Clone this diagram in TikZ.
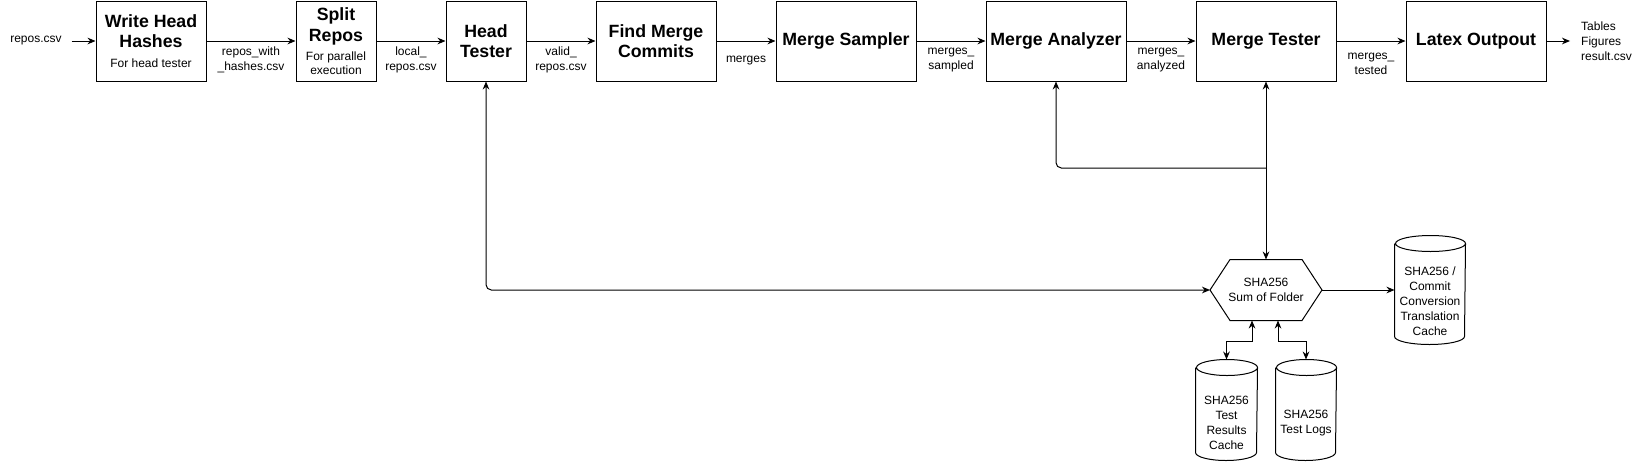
\documentclass[tikz,border=0pt]{standalone}
\usepackage{fontspec}
\setmainfont{Liberation Sans}
\usetikzlibrary{arrows.meta}
\newcommand{\titlefont}{\fontsize{13.3}{15.5}\selectfont\bfseries}
\newcommand{\notefont}{\fontsize{9}{11.25}\selectfont}
\newcommand{\hexpath}[2]% node, inset
{(#1.west) -- ([xshift=#2]#1.north west) -- ([xshift=-#2]#1.north east) -- (#1.east) -- ([xshift=-#2]#1.south east) -- ([xshift=#2]#1.south west) -- cycle
}
\newcommand{\dbpath}[3]% node, half width, half height of lid
{([yshift=-#3]#1.north west) -- ([yshift=#3]#1.south west) arc (180:360:#2 and #3) -- ([yshift=-#3]#1.north east) arc (0:180:#2 and #3) arc (180:360:#2 and #3)
}

\begin{document}
\begin{tikzpicture}[x=0.75pt, y=-0.75pt, line width=0.75pt,
	>={Stealth[length=6pt,width=5pt]},
	stage/.style={draw, minimum width=#1, minimum height=60pt, align=center, font=\titlefont, inner sep=1pt},
	lbl/.style={font=\notefont, align=center, yshift=-14.5pt},
	io/.style={font=\notefont, inner xsep=7pt},
	hexnode/.style={minimum width=83.25pt, minimum height=45pt, inner sep=0pt, font=\notefont, align=center},
	dbnode/.style={minimum width=#1, inner sep=0pt},
	dbtext/.style={font=\notefont, align=center}]
	\useasboundingbox (0,0) rectangle (1646,461);
	% pipeline
	\node[io] (reposcsv) at (36,41) {repos.csv};
	\node[stage=82.5pt] (whh) at (151,41) {Write Head\\Hashes\\[-0.75pt]{\notefont\mdseries For head tester}};
	\node[stage=60pt] (split) at (336,41) {Split\\Repos\\[-1.5pt]{\notefont\mdseries For parallel}\\[-5pt]{\notefont\mdseries execution}};
	\node[stage=60pt] (head) at (486,41) {Head\\Tester};
	\node[stage=90pt] (find) at (656,41) {Find Merge\\Commits};
	\node[stage=105pt] (sampler) at (846,41) {Merge Sampler};
	\node[stage=105pt] (analyzer) at (1056,41) {Merge Analyzer};
	\node[stage=105pt] (tester) at (1266,41) {Merge Tester};
	\node[stage=105pt] (latex) at (1476,41) {Latex Outpout};
	\node[io, anchor=west, align=left, inner xsep=8pt] (results) at (1570,41) {Tables\\Figures\\result.csv};
	\draw[->] (reposcsv) -- (whh);
	\draw[->] (whh) --node[midway, lbl]{repos\_with\\\_hashes.csv} (split);
	\draw[->] (split) --node[midway, lbl]{local\_\\repos.csv} (head);
	\draw[->] (head) --node[midway, lbl]{valid\_\\repos.csv} (find);
	\draw[->] (find) --node[midway, lbl]{merges} (sampler);
	\draw[->] (sampler) --node[midway, lbl]{merges\_\\sampled} (analyzer);
	\draw[->] (analyzer) --node[midway, lbl]{merges\_\\analyzed} (tester);
	\draw[->] (tester) --node[midway, lbl, yshift=-2.5pt]{merges\_\\tested} (latex);
	\draw[->] (latex) -- (results);
	% caches
	\node[hexnode] (sumfolder) at (1266,290) {SHA256\\Sum of Folder};
	\draw \hexpath{sumfolder}{15pt};
	\node[dbnode=52.5pt, minimum height=81pt, label={[dbtext, yshift=-8.5pt]center:SHA256 /\\Commit\\Conversion\\Translation\\Cache}] (convcache) at (1430,290) {};
	\draw \dbpath{convcache}{26.25pt}{6pt};
	\node[dbnode=45.75pt, minimum height=75pt, label={[dbtext, yshift=-10pt]center:SHA256\\Test\\Results\\Cache}] (rescache) at (1226.5,410) {};
	\draw \dbpath{rescache}{22.875pt}{6pt};
	\node[dbnode=45pt, minimum height=75pt, label={[dbtext, yshift=-10pt]center:SHA256\\Test Logs}] (logcache) at (1306,410) {};
	\draw \dbpath{logcache}{22.5pt}{6pt};
	\coordinate (join) at (tester.south |- 0,168);
	\draw[<->, rounded corners=4pt] (head.south) |- (sumfolder.west);
	\draw[<->] (tester.south) -- (sumfolder.north);
	\draw[->, rounded corners=4pt] (join) -| (analyzer.south);
	\draw[->] (sumfolder) -- (convcache);
	\draw[<->] ([xshift=-10.5pt]sumfolder.south) -- ++(0,21) -| (rescache.north);
	\draw[<->] ([xshift=9pt]sumfolder.south) -- ++(0,21) -| (logcache.north);
\end{tikzpicture}
\end{document}
